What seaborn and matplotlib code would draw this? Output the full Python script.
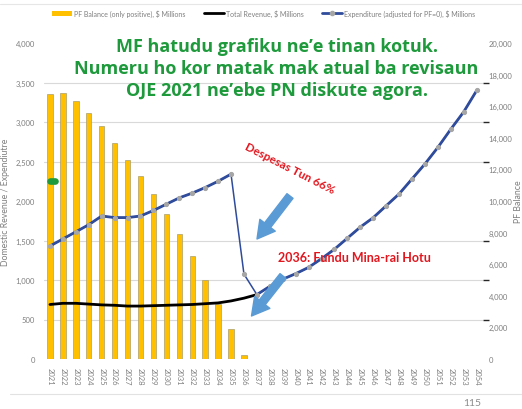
import numpy as np
import pandas as pd
import matplotlib
matplotlib.use("Agg")
import matplotlib.pyplot as plt
import seaborn as sns
from matplotlib.lines import Line2D
from matplotlib.patches import Patch
from matplotlib.ticker import MultipleLocator, FuncFormatter

# data
years = list(range(2021, 2055))
pf_balance = [16770, 16840, 16310, 15550, 14750, 13670, 12610, 11570, 10450, 9180,
              7910, 6500, 5020, 3480, 1920, 250] + [0] * 18
revenue = [690, 705, 705, 695, 685, 680, 670, 670, 675, 680, 685, 690, 700, 710,
           735, 770, 815]
expenditure = [1430, 1520, 1610, 1700, 1810, 1790, 1790, 1810, 1880, 1960, 2040,
               2100, 2170, 2250, 2340, 1075, 815, 920, 1010, 1080, 1160, 1270, 1390,
               1530, 1670, 1790, 1940, 2090, 2280, 2470, 2680, 2910, 3130, 3400]

title_lines = ["MF hatudu grafiku ne\u2019e tinan kotuk.",
               "Numeru ho kor matak mak atual ba revisaun",
               "OJE 2021 ne\u2019ebe PN diskute agora."]

GOLD = "#FFC000"
BLUE = "#2f4b9b"
GREY_MK = "#a6a6a6"
TXT = "#7f7f7f"
GREEN = "#1e9a3c"
RED = "#e3161e"
ARROW = "#5b9bd5"

sns.set_theme(style="white")
plt.rcParams["font.family"] = ["Lato", "DejaVu Sans"]

pos = np.arange(len(years))
bars = pd.DataFrame({"pos": pos, "year": years, "pf": pf_balance})
rev = pd.DataFrame({"pos": pos[:len(revenue)], "rev": revenue})
exp_df = pd.DataFrame({"pos": pos, "exp": expenditure})
# thick parts of the expenditure line (the drop 2035->2037 is drawn thin)
seg = np.where(pos <= 14, 0, np.where(pos >= 16, 1, -1))
exp_thick = exp_df[seg >= 0].assign(seg=seg[seg >= 0])

fig = plt.figure(figsize=(5.22, 4.10), dpi=100)
ax = fig.add_axes([43.5 / 522, 1 - 360 / 410, (483.2 - 43.5) / 522, (360 - 44) / 410])
ax2 = ax.twinx()

# PF balance bars (right axis)
sns.barplot(ax=ax, data=bars, x="pos", y="pf", color=GOLD, width=0.42,
            edgecolor="#a8a070", linewidth=0.5, saturation=1)
ax.set_ylim(0, 20000)
ax.yaxis.tick_right()
ax.yaxis.set_label_position("right")
ax.yaxis.set_major_locator(MultipleLocator(2000))
ax.yaxis.set_minor_locator(MultipleLocator(2500))
ax.yaxis.set_major_formatter(FuncFormatter(lambda v, p: f"{int(v):,}"))
ax.grid(False)
ax.grid(which="minor", axis="y", color="#d9d9d9", linewidth=0.8)
ax.set_axisbelow(True)

# revenue + expenditure lines (left axis)
sns.lineplot(ax=ax2, data=rev, x="pos", y="rev", color="black", linewidth=2.0)
sns.lineplot(ax=ax2, data=exp_thick, x="pos", y="exp", units="seg", estimator=None,
             color=BLUE, linewidth=2.0)
sns.lineplot(ax=ax2, data=exp_df, x="pos", y="exp", color=BLUE, linewidth=1.1,
             marker="o", markersize=3.0, markerfacecolor=GREY_MK,
             markeredgecolor=GREY_MK)
ax2.set_ylim(0, 4000)
ax2.yaxis.tick_left()
ax2.yaxis.set_label_position("left")
ax2.yaxis.set_major_locator(MultipleLocator(500))
ax2.yaxis.set_major_formatter(FuncFormatter(lambda v, p: f"{int(v):,}"))
ax2.grid(False)

ax.set_xlim(-0.5, len(years) - 0.5)
ax.set_xticks(pos)
ax.set_xticklabels([str(y) for y in years], rotation=-90)

for a in (ax, ax2):
    for s in a.spines.values():
        s.set_visible(False)
    a.tick_params(length=0, labelsize=5.5, labelcolor=TXT)
    a.set_xlabel("")
ax.tick_params(axis="y", pad=4)
ax2.tick_params(axis="y", pad=6)
ax.tick_params(axis="x", pad=6)

ax2.set_ylabel("Domestic Revenue / Expendiutre", fontsize=6.3, color=TXT)
ax2.yaxis.set_label_coords(-0.076, 0.5)
ax.set_ylabel("PF Balance", fontsize=6.3, color=TXT, rotation=90)
ax.yaxis.set_label_coords(1.07, 0.5)

# green marker on the 2021 bar
ax2.plot([0.02, 0.38], [2257, 2257], color=GREEN, linewidth=4.8,
         solid_capstyle="round", zorder=5)

# legend
handles = [Patch(facecolor=GOLD, edgecolor="none"),
           Line2D([], [], color="black", linewidth=2),
           Line2D([], [], color=BLUE, linewidth=2, marker="o", markersize=3,
                  markerfacecolor=GREY_MK, markeredgecolor=GREY_MK)]
labels = ["PF Balance (only positive), $ Millions", "Total Revenue, $ Millions",
          "Expenditure (adjusted for PF=0), $ Millions"]
fig.legend(handles, labels, loc="upper center", bbox_to_anchor=(0.505, 0.99),
           ncol=3, frameon=False, fontsize=5.0, labelcolor=TXT,
           handlelength=2.9, handleheight=0.8, columnspacing=2.6, handletextpad=0.3)

# slide text
for i, line in enumerate(title_lines):
    fig.text(276.5 / 522, 1 - (47 + 22 * i) / 410, line, ha="center", va="center",
             fontsize=13.0, fontweight="bold", color=GREEN,
             family=["Open Sans", "DejaVu Sans"])
fig.text(290 / 522, 1 - 169 / 410, "Despesas Tun 66%", ha="center", va="center",
         rotation=-27, fontsize=8.5, fontweight="bold", color=RED)
fig.text(354 / 522, 1 - 258 / 410, "2036: Fundu Mina-rai Hotu", ha="center",
         va="center", fontsize=9, fontweight="bold", color=RED)

arrow_style = "simple,head_length=1.25,head_width=1.4,tail_width=0.55"
for tail, tip in [((290, 197), (257, 240)), ((283, 277), (251.5, 317))]:
    fig.add_artist(matplotlib.patches.FancyArrowPatch(
        (tail[0] / 522, 1 - tail[1] / 410), (tip[0] / 522, 1 - tip[1] / 410),
        transform=fig.transFigure, arrowstyle=arrow_style, mutation_scale=10,
        color=ARROW, shrinkA=0, shrinkB=0, zorder=6))

# slide decoration
fig.add_artist(Line2D([0, 1], [1 - 5 / 410, 1 - 5 / 410], color="#e6e6e6",
                      linewidth=0.8, transform=fig.transFigure))
fig.add_artist(Line2D([10 / 522, 1], [1 - 395 / 410, 1 - 395 / 410], color="#e2e2e2",
                      linewidth=0.8, transform=fig.transFigure))
fig.text(472 / 522, 1 - 404 / 410, "115", ha="center", va="center", fontsize=7.5,
         color="#8c8c8c")

fig.savefig("out.png", dpi=100)
